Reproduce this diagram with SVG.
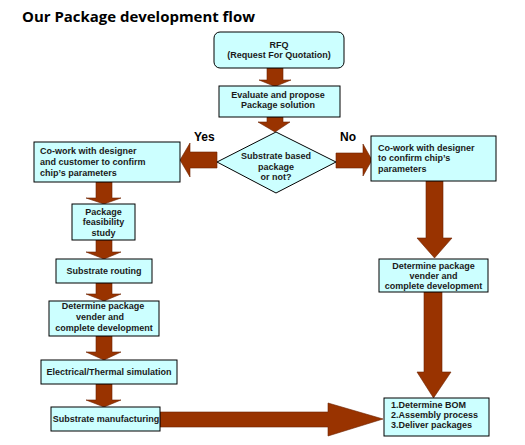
<svg xmlns="http://www.w3.org/2000/svg" width="525" height="445" viewBox="0 0 525 445">
<style>
.box{fill:#ccffff;stroke:#000;stroke-width:1}
.arr{fill:#993300;stroke:#6b2200;stroke-width:0.6}
text{font-family:"Liberation Sans",Arial,sans-serif;font-size:9px;font-weight:bold;fill:#1a1a1a}
.c{text-anchor:middle}
.lbl{font-size:12px;fill:#000}
.title{font-family:"Open Sans","Liberation Sans",sans-serif;font-size:15px;font-weight:bold;fill:#000}
</style>
<rect width="525" height="445" fill="#fff"/>
<text class="title" x="22" y="22" textLength="233" lengthAdjust="spacingAndGlyphs">Our Package development flow</text>
<g id="connectors">
<polygon class="arr" points="267,68 283,68 283,80 291,80 275,86.5 259,80 267,80"/>
<polygon class="arr" points="267,117 283,117 283,122 290,122 275,132 258,122 267,122"/>
<polygon class="arr" points="217,152 190,152 190,143 180,160 190,177 190,168 217,168"/>
<polygon class="arr" points="336,153 363,153 363,144 372,160 363,176 363,168 336,168"/>
<polygon class="arr" points="96,182 112,182 112,198 121,198 104,204 86,198 96,198"/>
<polygon class="arr" points="96,240 112,240 112,252 121,252 104,259 86,252 96,252"/>
<polygon class="arr" points="96,283 112,283 112,294 121,294 104,301 86,294 96,294"/>
<polygon class="arr" points="96,336 112,336 112,352 121,352 104,360 86,352 96,352"/>
<polygon class="arr" points="96,384 112,384 112,400 121,400 104,407 86,400 96,400"/>
<polygon class="arr" points="160,412 328,412 328,403 383,419 328,436 328,427 160,427"/>
<polygon class="arr" points="426,181 443,181 443,238 452,238 434.5,258 417,238 426,238"/>
<polygon class="arr" points="424,292 442,292 442,372 451,372 433.5,398 417,372 424,372"/>
</g>
<g id="rfq">
<rect class="box" x="214" y="32" width="130" height="36" rx="6"/>
<text class="c" x="279" y="48">RFQ</text>
<text class="c" x="279" y="58">(Request For Quotation)</text>
</g>
<g id="evaluate">
<rect class="box" x="219" y="86" width="121" height="31"/>
<text class="c" x="278" y="98">Evaluate and propose</text>
<text class="c" x="278" y="108">Package solution</text>
</g>
<g id="decision">
<polygon class="box" points="276,132 336,162 276,193 217,162"/>
<text class="c" x="276" y="159">Substrate based</text>
<text class="c" x="276" y="170">package</text>
<text class="c" x="276" y="180">or not?</text>
</g>
<text class="lbl" x="194" y="141">Yes</text>
<text class="lbl" x="340" y="141">No</text>
<g id="cowork-left">
<rect class="box" x="34" y="142" width="146" height="40"/>
<text x="40" y="154">Co-work with designer</text>
<text x="40" y="165">and customer to confirm</text>
<text x="40" y="175.5">chip’s parameters</text>
</g>
<g id="feasibility">
<rect class="box" x="72" y="204" width="63" height="36"/>
<text class="c" x="103.5" y="214.5">Package</text>
<text class="c" x="103.5" y="225">feasibility</text>
<text class="c" x="103.5" y="235.5">study</text>
</g>
<g id="routing">
<rect class="box" x="56" y="259" width="96" height="24"/>
<text class="c" x="104" y="273.5">Substrate routing</text>
</g>
<g id="determine-left">
<rect class="box" x="49" y="301" width="110" height="35"/>
<text class="c" x="103" y="309">Determine package</text>
<text class="c" x="100" y="319.5">vender and</text>
<text class="c" x="104" y="330.5">complete development</text>
</g>
<g id="simulation">
<rect class="box" x="41" y="360" width="136" height="24"/>
<text class="c" x="109" y="374.5">Electrical/Thermal simulation</text>
</g>
<g id="manufacturing">
<rect class="box" x="51" y="407" width="109" height="24"/>
<text class="c" x="106" y="422">Substrate manufacturing</text>
</g>
<g id="cowork-right">
<rect class="box" x="371" y="136" width="125" height="45"/>
<text x="378" y="150.5">Co-work with designer</text>
<text x="378" y="161">to confirm chip’s</text>
<text x="378" y="171.5">parameters</text>
</g>
<g id="determine-right">
<rect class="box" x="379" y="259" width="109" height="33"/>
<text class="c" x="433.5" y="268.5">Determine package</text>
<text class="c" x="433.5" y="278.5">vender and</text>
<text class="c" x="433.5" y="289">complete development</text>
</g>
<g id="final">
<rect class="box" x="384" y="398" width="105" height="38"/>
<text x="391" y="407.5">1.Determine BOM</text>
<text x="391" y="417.5">2.Assembly process</text>
<text x="391" y="427.5">3.Deliver packages</text>
</g>
</svg>
